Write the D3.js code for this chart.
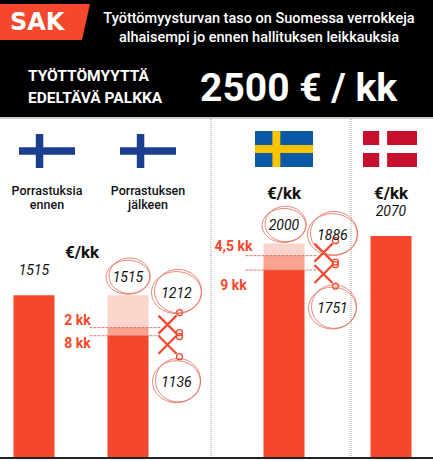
<!DOCTYPE html>
<html><head><meta charset="utf-8">
<script src="https://cdn.jsdelivr.net/npm/d3@7"></script>
<style>body{margin:0;background:#fff}svg{display:block}</style>
</head><body><svg id="c" width="433" height="461"></svg>
<script>
// data
const countries = ["fi1", "fi2", "se", "dk"];
const fullValues = [1515, 1515, 2000, 2070];
const cut1Values = [null, 1212, 1886, null];
const cut2Values = [null, 1136, 1751, null];
const cutLabels = [null, ["2 kk", "8 kk"], ["4,5 kk", "9 kk"], null];
const RED = "#f4472b";

const svg = d3.select("#c");
const x = d3.scaleOrdinal().domain(countries).range([34, 128, 284, 391]);
const y = d3.scaleLinear().domain([0, 2070]).range([457, 236]);
const bw = 41;

// header
svg.append("rect").attr("width", 433).attr("height", 117).attr("fill", "#000");
svg.append("path").attr("d", "M0,4H90L82,40H0Z").attr("fill", RED);
svg.append("text").attr("x", 10).attr("y", 30).text("SAK")
  .attr("font-family", "Arial Black, DejaVu Sans").attr("font-weight", 900).attr("font-size", 24).attr("fill", "#fff");
svg.append("text").attr("x", 264).attr("y", 23).attr("text-anchor", "middle").attr("fill", "#fff")
  .attr("font-family", "Roboto").attr("font-weight", 500).attr("font-size", 14.5)
  .selectAll("tspan").data(["Työttömyysturvan taso on Suomessa verrokkeja", "alhaisempi jo ennen hallituksen leikkauksia"])
  .join("tspan").attr("x", 259).attr("dy", (d, i) => i ? 19 : 0).text(d => d);
svg.append("text").attr("fill", "#fff").attr("font-family", "Roboto").attr("font-weight", 700).attr("font-size", 15.5)
  .selectAll("tspan").data(["TYÖTTÖMYYTTÄ", "EDELTÄVÄ PALKKA"])
  .join("tspan").attr("x", 28).attr("y", (d, i) => 81 + i * 22).text(d => d);
svg.append("text").attr("x", 200).attr("y", 101).text("2500 € / kk").attr("fill", "#fff")
  .attr("font-family", "Roboto").attr("font-weight", 700).attr("font-size", 39);
svg.append("line").attr("x1", 0).attr("x2", 433).attr("y1", 118).attr("y2", 118).attr("stroke", "#999");

// dividers
[211, 351].forEach(d => svg.append("line").attr("x1", d).attr("x2", d).attr("y1", 119).attr("y2", 457)
  .attr("stroke", "#999").attr("stroke-dasharray", "1,1"));
svg.append("line").attr("x1", 0).attr("x2", 433).attr("y1", 458).attr("y2", 458).attr("stroke", "#222").attr("stroke-width", 2);

// flags
function flag(cx, cy, bg, cross, w, h) {
  const g = svg.append("g");
  g.append("rect").attr("x", cx - w / 2).attr("y", cy - h / 2).attr("width", w).attr("height", h).attr("fill", bg);
  const cw = h * 0.22;
  g.append("rect").attr("x", cx - w / 2).attr("y", cy - cw / 2).attr("width", w).attr("height", cw).attr("fill", cross);
  g.append("rect").attr("x", cx - w / 2 + w * 0.3).attr("y", cy - h / 2).attr("width", cw).attr("height", h).attr("fill", cross);
}
flag(47, 151, "#fff", "#1a3f8f", 56, 34);
flag(148, 151, "#fff", "#1a3f8f", 56, 34);
flag(284, 149, "#0c5aa6", "#f9c300", 58, 36);
flag(390, 149, "#c8102e", "#fff", 54, 36);

const txt = (t, xx, yy, opt = {}) => svg.append("text").attr("x", xx).attr("y", yy).attr("text-anchor", "middle")
  .attr("font-family", "Roboto").attr("font-size", opt.size || 13).attr("font-weight", opt.w || 400)
  .attr("font-style", opt.it ? "italic" : "normal").attr("fill", opt.fill || "#111").text(t);
txt("Porrastuksia", 47, 195, {w: 500, size: 12.5}); txt("ennen", 47, 209, {w: 500, size: 12.5});
txt("Porrastuksen", 148, 195, {w: 500, size: 12.5}); txt("jälkeen", 148, 209, {w: 500, size: 12.5});
txt("€/kk", 82, 258, {w: 700, size: 17});
txt("€/kk", 284, 199, {w: 700, size: 17});
txt("€/kk", 391, 199, {w: 700, size: 17});

// bars
countries.forEach((c, i) => {
  const bx = x(c) - bw / 2;
  const hasCut = cut2Values[i] != null;
  if (hasCut) {
    svg.append("rect").attr("x", bx).attr("width", bw).attr("y", y(fullValues[i])).attr("height", y(cut1Values[i]) - y(fullValues[i])).attr("fill", "#fbd5cc");
    svg.append("rect").attr("x", bx).attr("width", bw).attr("y", y(cut1Values[i])).attr("height", y(cut2Values[i]) - y(cut1Values[i])).attr("fill", "#f9a291");
    svg.append("rect").attr("x", bx).attr("width", bw).attr("y", y(cut2Values[i])).attr("height", y(0) - y(cut2Values[i])).attr("fill", RED);
  } else {
    svg.append("rect").attr("x", bx).attr("width", bw).attr("y", y(fullValues[i])).attr("height", y(0) - y(fullValues[i])).attr("fill", RED);
  }
});

function ring(cx, cy, rx, ry) {
  [0, 1.5].forEach(k => svg.append("ellipse").attr("cx", cx + k).attr("cy", cy - k).attr("rx", rx - k).attr("ry", ry + k * 0.5)
    .attr("fill", "none").attr("stroke", "#e26a55").attr("stroke-width", 0.8));
}
function scissors(sx, sy) {
  const g = svg.append("g").attr("transform", `translate(${sx},${sy})`).attr("stroke", RED).attr("fill", "none").attr("stroke-width", 2.2);
  g.append("path").attr("d", "M-8,-9L10,9M-8,9L10,-9");
  g.append("circle").attr("cx", 13).attr("cy", -12).attr("r", 3).attr("stroke-width", 1.3);
  g.append("circle").attr("cx", 13).attr("cy", 12).attr("r", 3).attr("stroke-width", 1.3);
}

// value labels
countries.forEach((c, i) => {
  const cut = cut2Values[i] != null;
  txt(fullValues[i], x(c), y(fullValues[i]) - (cut ? 13 : 20), {it: true, size: 14});
  if (cut) ring(x(c), y(fullValues[i]) - 18, 22, 17);
});
// cut labels and scissors
countries.forEach((c, i) => {
  if (cut2Values[i] == null) return;
  const rx = x(c) + bw / 2 + 18;
  const y1 = y(cut1Values[i]), y2 = y(cut2Values[i]);
  [y1, y2].forEach(yy => svg.append("line").attr("x1", x(c) - bw / 2 - 18).attr("x2", rx - 6).attr("y1", yy).attr("y2", yy)
    .attr("stroke", "#d9604a").attr("stroke-dasharray", "3,1").attr("stroke-width", 0.8));
  const wide = i === 2;
  scissors(rx, y1 - 3);
  scissors(rx, y2 + (wide ? 4 : 9));
  txt(cut1Values[i], rx + 10, y1 - (wide ? 16 : 30), {it: true, size: 14});
  ring(rx + 10, y1 - (wide ? 21 : 35), 25, 21);
  txt(cut2Values[i], rx + 10, y2 + (wide ? 43 : 51), {it: true, size: 14});
  ring(rx + 10, y2 + (wide ? 38 : 46), 24, 21);
  const lx = x(c) - bw / 2 - 30;
  txt(cutLabels[i][0], lx, y1 + (wide ? -5 : -3), {w: 700, size: 14, fill: RED});
  txt(cutLabels[i][1], lx, y2 + (wide ? 20 : 12), {w: 700, size: 14, fill: RED});
});
</script></body></html>
